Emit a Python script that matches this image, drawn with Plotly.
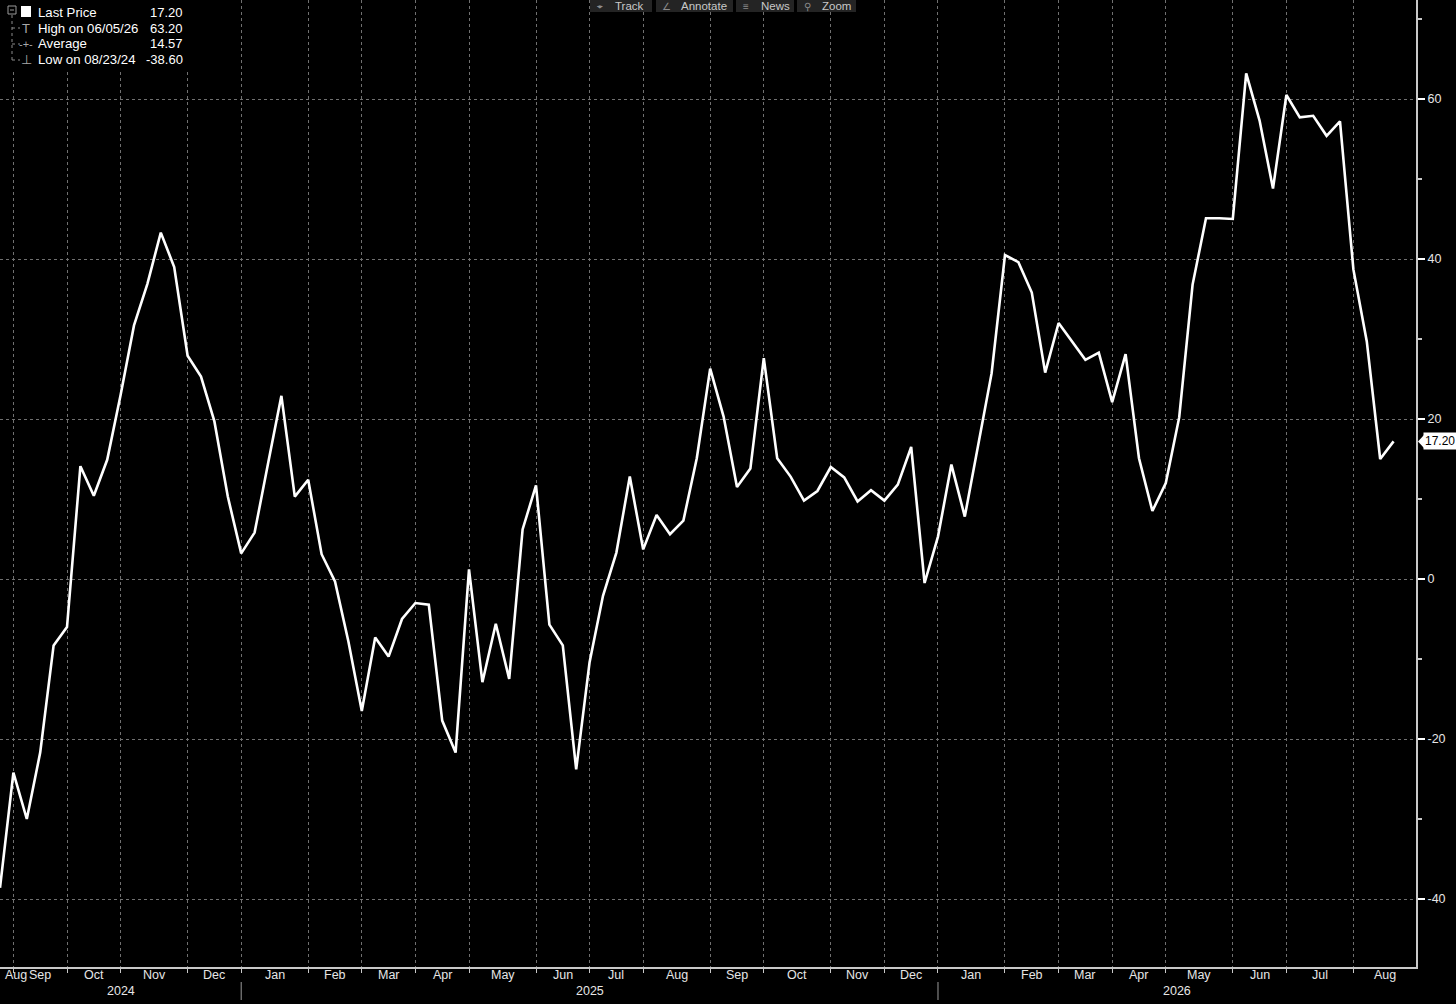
import plotly.graph_objects as go
import pandas as pd

# ---------------- data ----------------
start_date = "2024-08-23"
values = [
    -38.6, -24.2, -30.0, -21.7, -8.3, -6.0, 14.1, 10.4, 14.9, 23.0,
    31.7, 36.9, 43.3, 39.0, 27.9, 25.3, 19.7, 10.3, 3.2, 5.8,
    14.4, 22.9, 10.3, 12.4, 3.1, -0.3, -7.8, -16.5, -7.3, -9.7,
    -5.0, -3.0, -3.2, -17.7, -21.7, 1.2, -12.9, -5.6, -12.5, 6.2,
    11.7, -5.7, -8.3, -23.8, -10.4, -2.1, 3.3, 12.8, 3.7, 8.0,
    5.6, 7.3, 15.1, 26.3, 20.3, 11.5, 13.8, 27.6, 15.1, 12.8,
    9.8, 11.0, 14.0, 12.7, 9.7, 11.1, 9.8, 11.8, 16.5, -0.5,
    5.3, 14.3, 7.8, 16.6, 25.7, 40.5, 39.6, 35.8, 25.8, 32.0,
    29.7, 27.4, 28.3, 22.1, 28.1, 15.1, 8.5, 12.0, 20.2, 36.8,
    45.1, 45.1, 45.0, 63.2, 57.3, 48.8, 60.5, 57.7, 57.9, 55.4,
    57.2, 38.7, 29.7, 15.0, 17.2,
]
dates = pd.date_range(start_date, periods=len(values), freq="7D")

month_labels = ["Aug", "Sep", "Oct", "Nov", "Dec", "Jan", "Feb", "Mar", "Apr",
                "May", "Jun", "Jul", "Aug", "Sep", "Oct", "Nov", "Dec", "Jan",
                "Feb", "Mar", "Apr", "May", "Jun", "Jul", "Aug"]
year_labels = ["2024", "2025", "2026"]
y_major = [-40, -20, 0, 20, 40, 60]
y_minor = [-30, -10, 10, 30, 50, 70]
legend_rows = [("Last Price", "17.20"), ("High on 06/05/26", "63.20"),
               ("Average", "14.57"), ("Low on 08/23/24", "-38.60")]
last_label = "17.20"
toolbar = [("⌖", "Track"), ("∠", "Annotate"), ("≡", "News"), ("⚲", "Zoom")]

# ---------------- geometry ----------------
W, H = 1456, 1004
ML, MR, MT, MB = 0, 40, 0, 37
PW, PH = W - ML - MR, H - MT - MB
x_start = dates[0]
x_end = pd.Timestamp("2026-09-01 17:00")
y_lo, y_hi = -48.5, 72.375

def px(xp):
    return xp / PW

def py(yp):
    return 1 - yp / PH

def xfrac(d):
    return (pd.Timestamp(d) - x_start) / (x_end - x_start)

# gridlines at last data point of each complete month
s = pd.Series(dates)
grid_dates = list(s.groupby([s.dt.year, s.dt.month]).max())[:-1]
bounds = [x_start] + grid_dates + [x_end]
month_centers = [bounds[i] + (bounds[i + 1] - bounds[i]) / 2 for i in range(len(bounds) - 1)]
dec_grid = [d for d in grid_dates if d.month == 12]
ybounds = [x_start] + dec_grid + [x_end]
year_centers = [ybounds[i] + (ybounds[i + 1] - ybounds[i]) / 2 for i in range(len(ybounds) - 1)]

FONT = "Liberation Sans Narrow, Liberation Sans, Arial, sans-serif"
FONT2 = "Liberation Sans, Arial, sans-serif"
GRID = "#707070"
AXIS = "#c8c8c8"

fig = go.Figure()
fig.add_trace(go.Scatter(x=dates, y=values, mode="lines",
                         line=dict(color="white", width=2.6), hoverinfo="skip"))

shapes = []
annotations = []

# month labels
for i, (c, lab) in enumerate(zip(month_centers, month_labels)):
    if i == 0:
        annotations.append(dict(x=x_start, xref="x", y=py(975), yref="paper", text=lab,
                                showarrow=False, xanchor="left", yanchor="middle", xshift=3,
                                font=dict(family=FONT, size=12.5, color="#e6e6e6")))
    else:
        annotations.append(dict(x=c, xref="x", y=py(975), yref="paper", text=lab,
                                showarrow=False, xanchor="center", yanchor="middle",
                                font=dict(family=FONT, size=12.5, color="#e6e6e6")))
for c, lab in zip(year_centers, year_labels):
    annotations.append(dict(x=c, xref="x", y=py(991), yref="paper", text=lab,
                            showarrow=False, xanchor="center", yanchor="middle",
                            font=dict(family=FONT, size=12.5, color="#e6e6e6")))
for d in dec_grid:
    xf = xfrac(d)
    shapes.append(dict(type="line", xref="paper", yref="paper", x0=xf, x1=xf,
                       y0=py(982), y1=py(1000), line=dict(color="#9a9a9a", width=1)))

# last value tag
yf_last = (values[-1] - y_lo) / (y_hi - y_lo)
annotations.append(dict(x=1, xref="paper", y=yf_last, yref="paper", text=last_label,
                        showarrow=False, xanchor="left", yanchor="middle", xshift=7,
                        bgcolor="white", borderpad=1,
                        font=dict(family=FONT2, size=12, color="black")))
dy = 6.5 / PH
shapes.append(dict(type="path", xref="paper", yref="paper",
                   path=f"M {px(1418)} {yf_last} L {px(1424)} {yf_last + dy} L {px(1424)} {yf_last - dy} Z",
                   fillcolor="white", line=dict(width=0)))

# legend panel
shapes.append(dict(type="rect", xref="paper", yref="paper", x0=px(0), x1=px(192),
                   y0=py(72), y1=py(-2), fillcolor="black", line=dict(width=0), layer="above"))
shapes.append(dict(type="rect", xref="paper", yref="paper", x0=px(8), x1=px(16),
                   y0=py(14), y1=py(6), fillcolor="black", line=dict(color="#9a9a9a", width=1), layer="above"))
shapes.append(dict(type="line", xref="paper", yref="paper", x0=px(10), x1=px(14),
                   y0=py(10), y1=py(10), line=dict(color="#9a9a9a", width=1), layer="above"))
shapes.append(dict(type="line", xref="paper", yref="paper", x0=px(12), x1=px(12),
                   y0=py(15), y1=py(62), line=dict(color="#8a8a8a", width=1, dash="dot"), layer="above"))
for ry in (28, 44, 60):
    shapes.append(dict(type="line", xref="paper", yref="paper", x0=px(12), x1=px(20),
                       y0=py(ry), y1=py(ry), line=dict(color="#8a8a8a", width=1, dash="dot"), layer="above"))
shapes.append(dict(type="rect", xref="paper", yref="paper", x0=px(21), x1=px(31),
                   y0=py(17), y1=py(6), fillcolor="white", line=dict(width=0), layer="above"))
icons = [None, "T", "-+-", "⊥"]
row_y = [12, 28, 44, 60]
for (lab, val), ry, ic in zip(legend_rows, row_y, icons):
    annotations.append(dict(x=px(36), xref="paper", y=py(ry), yref="paper", text=lab,
                            showarrow=False, xanchor="left", yanchor="middle",
                            font=dict(family=FONT2, size=13.2, color="white")))
    annotations.append(dict(x=px(185), xref="paper", y=py(ry), yref="paper", text=val,
                            showarrow=False, xanchor="right", yanchor="middle",
                            font=dict(family=FONT2, size=13, color="white")))
    if ic:
        annotations.append(dict(x=px(26), xref="paper", y=py(ry), yref="paper", text=ic,
                                showarrow=False, xanchor="center", yanchor="middle",
                                font=dict(family=FONT2, size=11 if ic == "-+-" else 13, color="#a8a8a8")))

# toolbar (sits at the very top edge)
btn_x = [(590, 652), (656, 733), (736, 794), (797, 856)]
for (x0, x1), (ic, lab) in zip(btn_x, toolbar):
    shapes.append(dict(type="rect", xref="paper", yref="paper", x0=px(x0), x1=px(x1),
                       y0=py(12), y1=py(-6), fillcolor="#242424", line=dict(width=0), layer="above"))
    annotations.append(dict(x=px(x0 + 10), xref="paper", y=py(6), yref="paper", text=ic,
                            showarrow=False, xanchor="center", yanchor="middle",
                            font=dict(family=FONT2, size=10, color="#8c8c8c")))
    annotations.append(dict(x=px(x0 + 23), xref="paper", y=py(6), yref="paper", text=lab,
                            showarrow=False, xanchor="left", yanchor="middle",
                            font=dict(family=FONT2, size=11.5, color="#c8c8c8")))

fig.update_layout(
    width=W, height=H,
    margin=dict(l=ML, r=MR, t=MT, b=MB, pad=0),
    paper_bgcolor="black", plot_bgcolor="black",
    showlegend=False,
    shapes=shapes, annotations=annotations,
    xaxis=dict(type="date", range=[x_start, x_end], tickvals=grid_dates,
               ticktext=[""] * len(grid_dates), showgrid=True, gridcolor=GRID,
               griddash="dot", gridwidth=1, ticks="outside", ticklen=4,
               tickcolor=AXIS, showline=True, linecolor=AXIS, linewidth=2,
               zeroline=False, fixedrange=True),
    yaxis=dict(side="right", range=[y_lo, y_hi], tickvals=y_major,
               ticktext=[str(v) for v in y_major], showgrid=True, gridcolor=GRID,
               griddash="dot", gridwidth=1, ticks="outside", ticklen=7, tickwidth=2,
               tickcolor="white", showline=True, linecolor=AXIS, linewidth=2,
               zeroline=False, tickfont=dict(family=FONT2, size=12.5, color="#e6e6e6"),
               minor=dict(tickvals=y_minor, ticks="outside", ticklen=4,
                          tickcolor=AXIS, showgrid=False),
               fixedrange=True),
)

fig.write_html("out.html", config={"displayModeBar": False},
               post_script="document.body.style.margin='0';document.body.style.overflow='hidden';")
